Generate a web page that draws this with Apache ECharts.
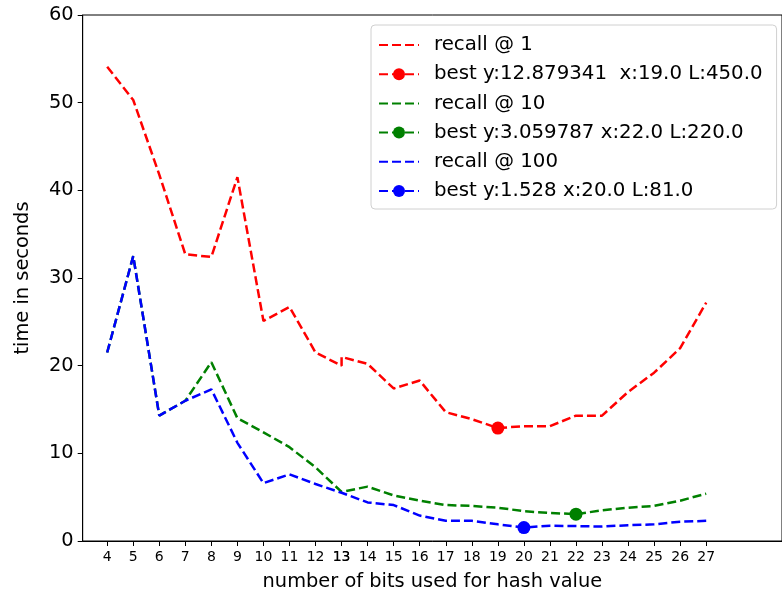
<!DOCTYPE html>
<html>
<head>
<meta charset="utf-8">
<script src="https://cdn.jsdelivr.net/npm/echarts@6/dist/echarts.min.js"></script>
<style>
  html, body { margin: 0; padding: 0; background: #fff; }
  #chart { width: 782px; height: 598px; }
</style>
</head>
<body>
<div id="chart"></div>
<script>
// x values (13 appears twice in the source run)
const bits = [4, 5, 6, 7, 8, 9, 10, 11, 12, 13, 13, 14, 15, 16, 17, 18, 19, 20, 21, 22, 23, 24, 25, 26, 27]
const tickBits = [4, 5, 6, 7, 8, 9, 10, 11, 12, 13, 13, 14, 15, 16, 17, 18, 19, 20, 21, 22, 23, 24, 25, 26, 27]

// time in seconds
const recall1 = [54.1, 50.3, 41.8, 32.7, 32.4, 41.5, 25.1, 26.7, 21.5, 20.0, 21.0, 20.2, 17.4, 18.3, 14.7, 13.9, 12.88, 13.1, 13.1, 14.3, 14.3, 17.0, 19.2, 22.0, 27.2]
const recall10 = [21.5, 32.5, 14.3, 16.0, 20.4, 14.0, 12.4, 10.7, 8.4, 5.6, 5.7, 6.2, 5.2, 4.6, 4.1, 4.0, 3.8, 3.4, 3.2, 3.06, 3.5, 3.8, 4.0, 4.6, 5.4]
const recall100 = [21.5, 32.5, 14.3, 16.0, 17.3, 11.2, 6.6, 7.6, 6.5, 5.5, 5.5, 4.4, 4.1, 2.9, 2.3, 2.3, 1.9, 1.53, 1.75, 1.7, 1.65, 1.8, 1.9, 2.2, 2.3]

// best points [x, y]
const best1 = [19, 12.879341]
const best10 = [22, 3.059787]
const best100 = [20, 1.528]

const names = [
  'recall @ 1',
  'best y:12.879341  x:19.0 L:450.0',
  'recall @ 10',
  'best y:3.059787 x:22.0 L:220.0',
  'recall @ 100',
  'best y:1.528 x:20.0 L:81.0',
]

const font = 'DejaVu Sans'
const pairs = (ys) => bits.map((x, i) => [x, ys[i]])

function curve(name, color, ys) {
  return {
    name: name,
    type: 'line',
    data: pairs(ys),
    symbol: 'none',
    lineStyle: { color: color, width: 2.5, type: [9, 4] },
    itemStyle: { color: color },
    animation: false,
  }
}

function bestPoint(name, color, pt) {
  return {
    name: name,
    type: 'line',
    data: [pt],
    symbol: 'circle',
    symbolSize: 13,
    z: 5,
    lineStyle: { color: color, width: 2.5, type: [9, 4] },
    itemStyle: { color: color },
    animation: false,
  }
}

// legend rows: the plain curves show only the dashed line, no marker
const legendData = names.map((n, i) =>
  i % 2 === 0 ? { name: n, itemStyle: { opacity: 0 } } : { name: n }
)

let myChart = echarts.init(document.getElementById('chart'))

let option = {
  backgroundColor: '#fff',
  grid: {
    left: 82.7,
    right: -3.5,
    top: 15,
    bottom: 57,
    show: true,
    borderColor: '#000',
    borderWidth: 1,
  },
  legend: {
    data: legendData,
    orient: 'vertical',
    left: 371,
    top: 25,
    padding: [10, 14, 8, 7],
    itemWidth: 40,
    itemHeight: 15,
    itemGap: 9.2,
    backgroundColor: '#fff',
    borderColor: '#d0d0d0',
    borderWidth: 1,
    borderRadius: 4,
    textStyle: { fontFamily: font, fontSize: 19.8, lineHeight: 19.8, color: '#000', padding: [0, 0, 0, 10] },
  },
  xAxis: {
    type: 'value',
    min: 3.06,
    max: 29.91,
    name: 'number of bits used for hash value',
    nameLocation: 'middle',
    nameGap: 31,
    nameTextStyle: { fontFamily: font, fontSize: 19.4, color: '#000' },
    axisLine: { lineStyle: { color: '#000', width: 1 } },
    axisTick: { length: 5, lineStyle: { color: '#000' }, customValues: tickBits },
    axisLabel: { fontFamily: font, fontSize: 14, color: '#000', margin: 9, customValues: tickBits },
    splitLine: { show: false },
  },
  yAxis: {
    type: 'value',
    min: 0,
    max: 60,
    interval: 10,
    name: 'time in seconds',
    nameLocation: 'middle',
    nameGap: 50,
    nameTextStyle: { fontFamily: font, fontSize: 19.4, color: '#000' },
    axisLine: { show: true, lineStyle: { color: '#000', width: 1 } },
    axisTick: { show: true, length: 5, lineStyle: { color: '#000' } },
    axisLabel: { fontFamily: font, fontSize: 19.4, color: '#000', margin: 9 },
    splitLine: { show: false },
  },
  series: [
    curve(names[0], '#ff0000', recall1),
    bestPoint(names[1], '#ff0000', best1),
    curve(names[2], '#008000', recall10),
    bestPoint(names[3], '#008000', best10),
    curve(names[4], '#0000ff', recall100),
    bestPoint(names[5], '#0000ff', best100),
  ],
}

myChart.setOption(option)
</script>
</body>
</html>
